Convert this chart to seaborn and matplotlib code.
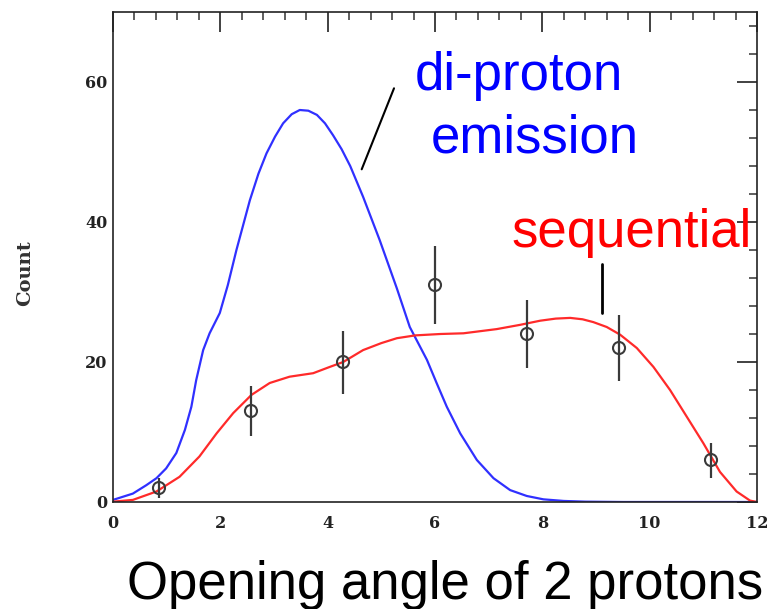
import numpy as np
import pandas as pd
import matplotlib
matplotlib.use("Agg")
import matplotlib.pyplot as plt
from matplotlib.lines import Line2D
from matplotlib.ticker import MultipleLocator
import seaborn as sns

# --- data ---
diproton_x = [0.0, 0.37, 0.62, 0.81, 0.99, 1.18, 1.34, 1.46, 1.55, 1.68, 1.80, 1.99,
              2.14, 2.30, 2.55, 2.71, 2.86, 3.02, 3.17, 3.33, 3.48, 3.64, 3.80, 3.95,
              4.10, 4.26, 4.42, 4.66, 4.97, 5.29, 5.53, 5.85, 6.03, 6.22, 6.47, 6.78,
              7.09, 7.40, 7.71, 8.02, 8.40, 8.80, 9.50, 12.0]
diproton_y = [0.3, 1.2, 2.4, 3.4, 4.8, 7.0, 10.3, 13.6, 17.4, 21.7, 24.1, 27.0,
              31.0, 36.0, 43.1, 46.9, 49.8, 52.2, 54.1, 55.4, 56.0, 55.9, 55.3, 54.1,
              52.4, 50.4, 48.0, 43.6, 37.4, 30.5, 25.0, 20.3, 17.0, 13.6, 9.8, 6.0,
              3.4, 1.7, 0.86, 0.38, 0.15, 0.05, 0.0, 0.0]

seq_x = [0.0, 0.37, 0.81, 1.24, 1.61, 1.93, 2.24, 2.58, 2.92, 3.29, 3.73, 4.04,
         4.29, 4.66, 5.00, 5.29, 5.63, 6.10, 6.53, 7.15, 7.58, 7.96, 8.25, 8.52,
         8.75, 8.95, 9.20, 9.45, 9.76, 10.07, 10.38, 10.69, 11.0, 11.31, 11.62,
         11.87, 12.0]
seq_y = [0.05, 0.3, 1.5, 3.6, 6.5, 9.8, 12.7, 15.3, 17.0, 17.9, 18.4, 19.3,
         20.0, 21.7, 22.7, 23.4, 23.8, 24.0, 24.1, 24.7, 25.3, 25.9, 26.2, 26.3,
         26.1, 25.7, 25.0, 23.9, 22.0, 19.3, 16.0, 12.2, 8.4, 4.3, 1.5, 0.2, 0.0]

data_x = [0.857, 2.571, 4.286, 6.0, 7.714, 9.429, 11.143]
data_y = [2, 13, 20, 31, 24, 22, 6]
data_err = [1.4, 3.6, 4.5, 5.6, 4.9, 4.7, 2.5]

x_ticks = [0, 2, 4, 6, 8, 10, 12]
y_ticks = [0, 20, 40, 60]

sns.set_style("white")
plt.rcParams['font.family'] = ['Liberation Sans', 'DejaVu Sans']

W, H = 771, 609
fig = plt.figure(figsize=(W / 100, H / 100), dpi=100)
ax = fig.add_axes([113 / W, 107 / H, 644 / W, 490 / H])

df_blue = pd.DataFrame({"x": diproton_x, "y": diproton_y})
df_red = pd.DataFrame({"x": seq_x, "y": seq_y})
sns.lineplot(data=df_blue, x="x", y="y", ax=ax, color="#3030ff", lw=1.6, sort=False)
sns.lineplot(data=df_red, x="x", y="y", ax=ax, color="#ff2a2a", lw=1.6, sort=False)
for ln in ax.get_lines():
    ln.set_solid_joinstyle("round")

ax.errorbar(data_x, data_y, yerr=data_err, fmt="none", ecolor="#3a3a3a",
            elinewidth=1.6, capsize=0, zorder=4)
sns.scatterplot(x=data_x, y=data_y, ax=ax, marker="o", s=75,
                facecolor="none", edgecolor="#3a3a3a", linewidth=1.5, zorder=5)

ax.set_xlim(0, 12)
ax.set_ylim(0, 70)
ax.set_xticks(x_ticks)
ax.set_yticks(y_ticks)
ax.xaxis.set_minor_locator(MultipleLocator(0.4))
ax.yaxis.set_minor_locator(MultipleLocator(4))
ax.set_xlabel("")
ax.set_ylabel("")

for s in ax.spines.values():
    s.set_linewidth(1.2)
    s.set_color("#222222")

ax.tick_params(which="both", direction="in", top=True, right=True, color="#333333")
ax.tick_params(which="major", length=14.5, width=1.3)
ax.tick_params(which="minor", length=5.8, width=1.1)
ax.tick_params(axis="x", which="major", pad=9.0)
ax.tick_params(axis="y", which="major", pad=4.0)
for lab in ax.get_xticklabels() + ax.get_yticklabels():
    lab.set_fontfamily("DejaVu Serif")
    lab.set_fontweight("bold")
    lab.set_fontsize(11.5)
    lab.set_color("#222222")

fig.text(25 / W, 1 - 273 / H, "Count", rotation=90, ha="center", va="center",
         fontsize=14, family="DejaVu Serif", fontweight="bold", color="#333333")

fs = 38
fig.text(415 / W, 1 - 90 / H, "di-proton", color="#0000ff", fontsize=fs,
         ha="left", va="baseline")
fig.text(431 / W, 1 - 152.7 / H, "emission", color="#0000ff", fontsize=fs,
         ha="left", va="baseline")
fig.text(511 / W, 1 - 246.7 / H, "sequential", color="#ff0000", fontsize=fs,
         ha="left", va="baseline")
fig.text(127 / W, 1 - 599 / H, "Opening angle of 2 protons", color="black",
         fontsize=fs, ha="left", va="baseline")

fig.add_artist(Line2D([394 / W, 361.7 / W], [1 - 88.3 / H, 1 - 169.3 / H],
                      color="black", lw=1.5))
fig.add_artist(Line2D([601.7 / W, 601.7 / W], [1 - 264.3 / H, 1 - 313.3 / H],
                      color="black", lw=2))

fig.savefig("out.png", dpi=100)
